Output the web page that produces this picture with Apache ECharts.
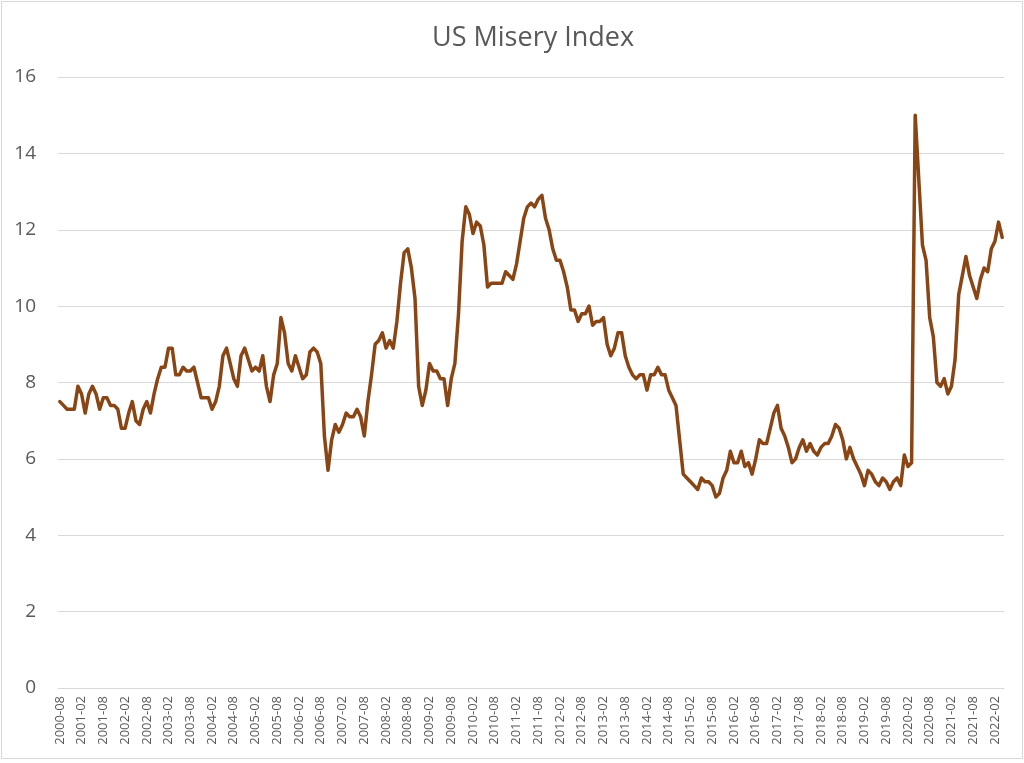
<!DOCTYPE html>
<html>
<head>
<meta charset="utf-8">
<script src="https://cdn.jsdelivr.net/npm/echarts@6/dist/echarts.min.js"></script>
<style>
html,body{margin:0;padding:0;background:#fff;}
#wrap{position:relative;width:1024px;height:763px;}
#chart{position:absolute;left:0;top:0;width:1024px;height:763px;}
#frame{position:absolute;left:1px;top:1px;width:1020px;height:756px;border:1px solid #d9d9d9;pointer-events:none;}
</style>
</head>
<body>
<div id="wrap"><div id="chart"></div><div id="frame"></div></div>
<script>
// Month categories: 2000-08 .. 2022-04
var startYear = 2000, startMonth = 8, monthCount = 261;
var categories = [];
for (var i = 0; i < monthCount; i++) {
  var m = startMonth - 1 + i;
  var y = startYear + Math.floor(m / 12);
  var mm = (m % 12) + 1;
  categories.push(y + '-' + (mm < 10 ? '0' + mm : mm));
}

// Misery index values by year
var v2000 = [7.5, 7.4, 7.3, 7.3, 7.3];
var v2001 = [7.9, 7.7, 7.2, 7.7, 7.9, 7.7, 7.3, 7.6, 7.6, 7.4, 7.4, 7.3];
var v2002 = [6.8, 6.8, 7.2, 7.5, 7.0, 6.9, 7.3, 7.5, 7.2, 7.7, 8.1, 8.4];
var v2003 = [8.4, 8.9, 8.9, 8.2, 8.2, 8.4, 8.3, 8.3, 8.4, 8.0, 7.6, 7.6];
var v2004 = [7.6, 7.3, 7.5, 7.9, 8.7, 8.9, 8.5, 8.1, 7.9, 8.7, 8.9, 8.6];
var v2005 = [8.3, 8.4, 8.3, 8.7, 7.9, 7.5, 8.2, 8.5, 9.7, 9.3, 8.5, 8.3];
var v2006 = [8.7, 8.4, 8.1, 8.2, 8.8, 8.9, 8.8, 8.5, 6.6, 5.7, 6.5, 6.9];
var v2007 = [6.7, 6.9, 7.2, 7.1, 7.1, 7.3, 7.1, 6.6, 7.5, 8.2, 9.0, 9.1];
var v2008 = [9.3, 8.9, 9.1, 8.9, 9.6, 10.6, 11.4, 11.5, 11.0, 10.2, 7.9, 7.4];
var v2009 = [7.8, 8.5, 8.3, 8.3, 8.1, 8.1, 7.4, 8.1, 8.5, 9.8, 11.7, 12.6];
var v2010 = [12.4, 11.9, 12.2, 12.1, 11.6, 10.5, 10.6, 10.6, 10.6, 10.6, 10.9, 10.8];
var v2011 = [10.7, 11.1, 11.7, 12.3, 12.6, 12.7, 12.6, 12.8, 12.9, 12.3, 12.0, 11.5];
var v2012 = [11.2, 11.2, 10.9, 10.5, 9.9, 9.9, 9.6, 9.8, 9.8, 10.0, 9.5, 9.6];
var v2013 = [9.6, 9.7, 9.0, 8.7, 8.9, 9.3, 9.3, 8.7, 8.4, 8.2, 8.1, 8.2];
var v2014 = [8.2, 7.8, 8.2, 8.2, 8.4, 8.2, 8.2, 7.8, 7.6, 7.4, 6.5, 5.6];
var v2015 = [5.5, 5.4, 5.3, 5.2, 5.5, 5.4, 5.4, 5.3, 5.0, 5.1, 5.5, 5.7];
var v2016 = [6.2, 5.9, 5.9, 6.2, 5.8, 5.9, 5.6, 6.0, 6.5, 6.4, 6.4, 6.8];
var v2017 = [7.2, 7.4, 6.8, 6.6, 6.3, 5.9, 6.0, 6.3, 6.5, 6.2, 6.4, 6.2];
var v2018 = [6.1, 6.3, 6.4, 6.4, 6.6, 6.9, 6.8, 6.5, 6.0, 6.3, 6.0, 5.8];
var v2019 = [5.6, 5.3, 5.7, 5.6, 5.4, 5.3, 5.5, 5.4, 5.2, 5.4, 5.5, 5.3];
var v2020 = [6.1, 5.8, 5.9, 15.0, 13.3, 11.6, 11.2, 9.7, 9.2, 8.0, 7.9, 8.1];
var v2021 = [7.7, 7.9, 8.6, 10.3, 10.8, 11.3, 10.8, 10.5, 10.2, 10.7, 11.0, 10.9];
var v2022 = [11.5, 11.7, 12.2, 11.8];

var values = [].concat(v2000, v2001, v2002, v2003, v2004, v2005, v2006, v2007,
  v2008, v2009, v2010, v2011, v2012, v2013, v2014, v2015, v2016, v2017,
  v2018, v2019, v2020, v2021, v2022);

var yTicks = [0, 2, 4, 6, 8, 10, 12, 14, 16];

var chart = echarts.init(document.getElementById('chart'), null, {renderer: 'canvas'});
chart.setOption({
  backgroundColor: '#ffffff',
  animation: false,
  title: {
    text: 'US Misery Index',
    left: 427,
    top: 20,
    textStyle: {color: '#595959', fontSize: 27, fontWeight: 'normal', fontFamily: 'Open Sans'}
  },
  grid: {left: 58, right: 20, top: 77, bottom: 75, containLabel: false},
  xAxis: {
    type: 'category',
    data: categories,
    boundaryGap: true,
    axisTick: {show: false},
    axisLine: {show: true, lineStyle: {color: '#d9d9d9', width: 1}},
    axisLabel: {interval: 5, rotate: 90, fontSize: 13, color: '#595959', fontFamily: 'Open Sans', margin: 8},
    splitLine: {show: false}
  },
  yAxis: {
    type: 'value',
    min: yTicks[0],
    max: yTicks[yTicks.length - 1],
    interval: 2,
    axisLine: {show: false},
    axisTick: {show: false},
    axisLabel: {fontSize: 19, color: '#595959', fontFamily: 'Open Sans', margin: 22},
    splitLine: {lineStyle: {color: '#d9d9d9', width: 1}}
  },
  series: [{
    type: 'line',
    data: values,
    symbol: 'none',
    smooth: false,
    lineStyle: {color: '#8a4515', width: 3.5, join: 'round', cap: 'round'}
  }]
});
</script>
</body>
</html>
